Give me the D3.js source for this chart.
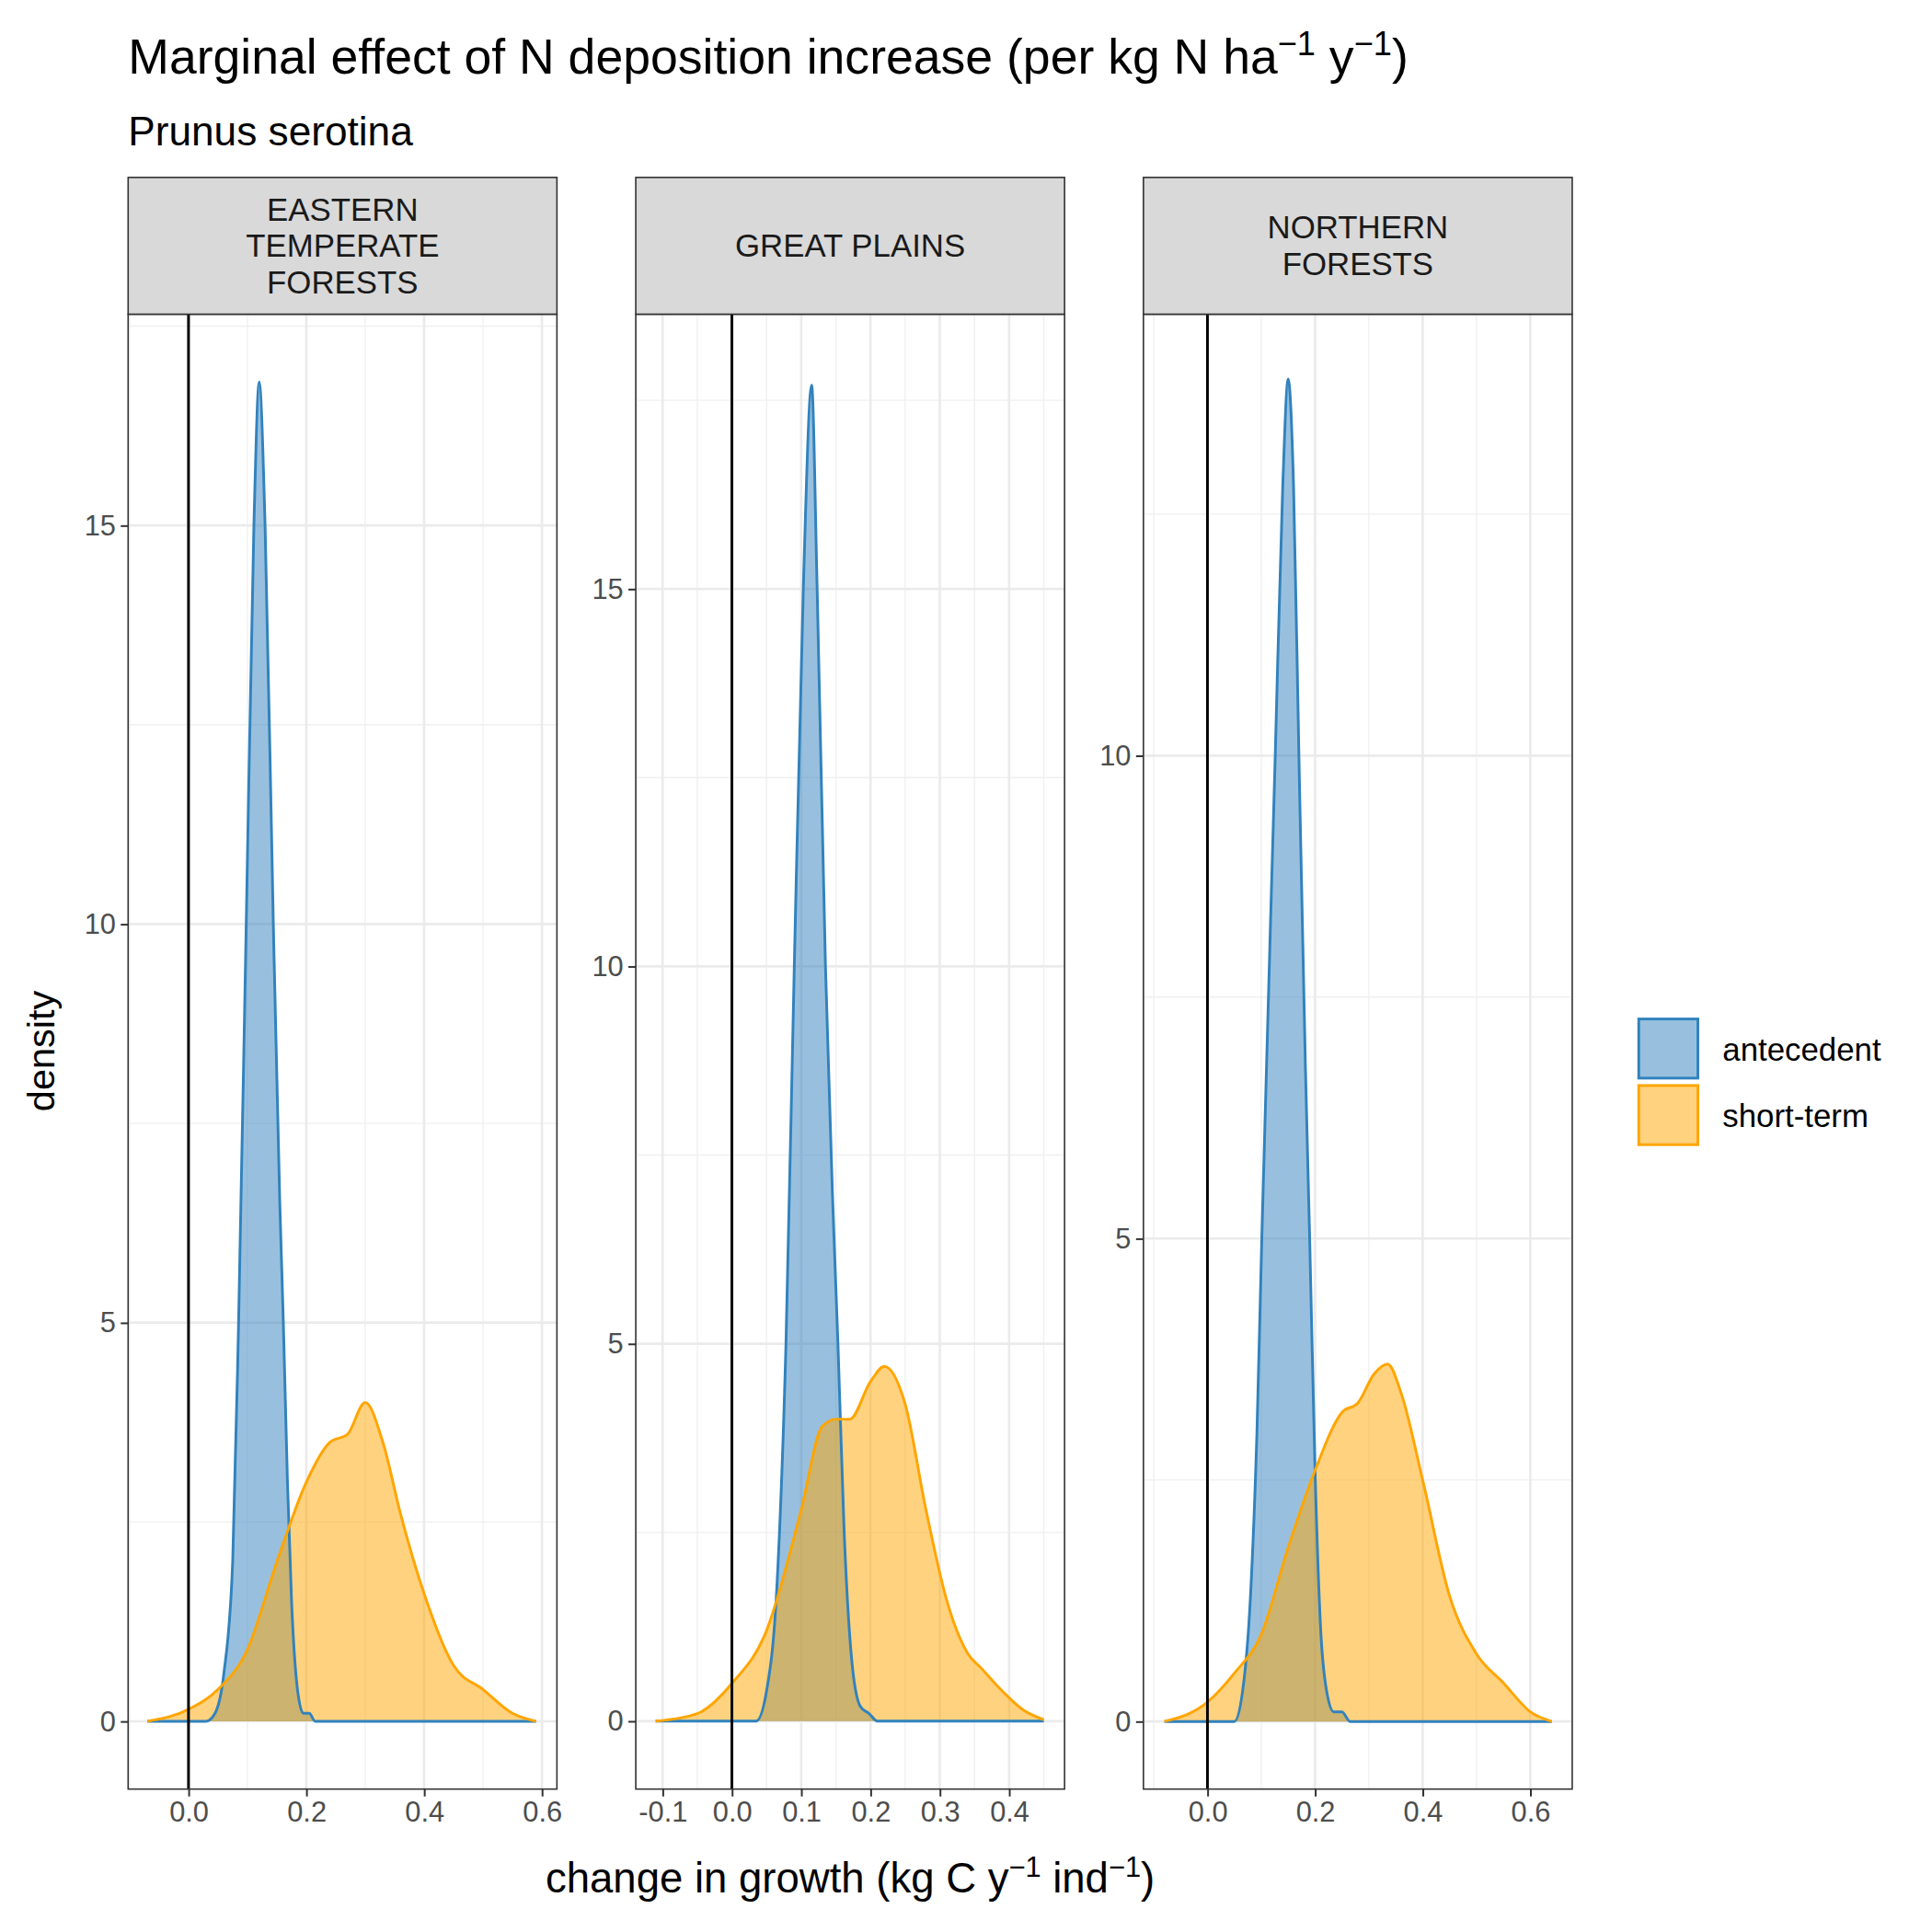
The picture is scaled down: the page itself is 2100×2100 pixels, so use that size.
<!DOCTYPE html>
<html><head><meta charset="utf-8">
<script src="https://cdn.jsdelivr.net/npm/d3@7"></script>
<style>body{margin:0;background:#fff}</style>
</head><body>
<script>
// values
var panels = ["EASTERN\nTEMPERATE\nFORESTS", "GREAT PLAINS", "NORTHERN\nFORESTS"];
var xDomains = [[-0.1025, 0.6255], [-0.1387, 0.48], [-0.119, 0.678]];
var yDomains = [[-0.85, 17.65], [-0.9, 18.64], [-0.7, 14.57]];
var xTicks = [[0, 0.2, 0.4, 0.6], [-0.1, 0, 0.1, 0.2, 0.3, 0.4], [0, 0.2, 0.4, 0.6]];
var yTicks = [[0, 5, 10, 15], [0, 5, 10, 15], [0, 5, 10]];

var antecedent = [
  [[-0.07,0],[0.03,0],[0.045,0.1],[0.06,0.6],[0.075,2],[0.085,5],[0.098,10],[0.111,15],[0.12,16.8],[0.13,15],[0.144,10],[0.155,6.5],[0.161,5],[0.168,3],[0.175,1.5],[0.185,0.4],[0.195,0.1],[0.205,0.1],[0.215,0],[0.59,0]],
  [[-0.11,0],[0.035,0],[0.05,0.4],[0.065,1.8],[0.078,5],[0.09,10],[0.103,15],[0.115,17.7],[0.123,15],[0.135,10],[0.145,7],[0.153,5],[0.162,2.5],[0.172,0.9],[0.185,0.2],[0.198,0.1],[0.21,0],[0.45,0]],
  [[-0.08,0],[0.05,0],[0.065,0.3],[0.08,1.3],[0.092,3],[0.101,5],[0.126,10],[0.14,12.8],[0.15,13.9],[0.16,12.8],[0.17,10],[0.182,6.8],[0.19,5],[0.2,2.6],[0.21,1],[0.222,0.3],[0.235,0.1],[0.25,0.1],[0.265,0],[0.64,0]]
];
var shortTerm = [
  [[-0.07,0],[0,0.15],[0.05,0.4],[0.1,0.9],[0.15,2],[0.2,3],[0.24,3.5],[0.27,3.6],[0.3,4],[0.33,3.5],[0.36,2.6],[0.4,1.6],[0.45,0.7],[0.5,0.4],[0.55,0.1],[0.59,0]],
  [[-0.11,0],[-0.05,0.1],[0,0.5],[0.05,1.2],[0.1,2.8],[0.13,3.9],[0.15,4.0],[0.17,4.0],[0.2,4.5],[0.22,4.7],[0.25,4.2],[0.28,2.8],[0.31,1.6],[0.34,0.9],[0.36,0.7],[0.39,0.4],[0.42,0.15],[0.45,0.02]],
  [[-0.08,0],[0,0.2],[0.05,0.5],[0.1,0.9],[0.15,1.8],[0.2,2.6],[0.25,3.2],[0.28,3.3],[0.31,3.6],[0.335,3.7],[0.36,3.4],[0.4,2.5],[0.45,1.3],[0.5,0.7],[0.55,0.4],[0.6,0.1],[0.64,0]]
];
var seriesNames = ["antecedent", "short-term"];
var colors = ["#3182bd", "#ffa500"];

var W = 1568;
var font = "Liberation Sans, Arial, sans-serif";
var svg = d3.select("body").append("svg")
  .attr("width", 2100).attr("height", 2100)
  .attr("viewBox", "0 0 " + W + " " + W)
  .style("font-family", font);

svg.append("text").attr("x", 104).attr("y", 60).style("font-size", "40px").style("fill", "#000")
  .html('Marginal effect of N deposition increase (per kg N ha<tspan dy="-15" font-size="27">\u22121</tspan><tspan dy="15"> y</tspan><tspan dy="-15" font-size="27">\u22121</tspan><tspan dy="15">)</tspan>');
svg.append("text").attr("x", 104).attr("y", 118).style("font-size", "33px").text("Prunus serotina");

var panelX = [104, 516, 928], pw = 348, pTop = 255, pBottom = 1452;
var fmt = function(v) { return d3.format(".1f")(v).replace("\u2212", "-"); };

panels.forEach(function(name, i) {
  var g = svg.append("g");
  var x = d3.scaleLinear().domain(xDomains[i]).range([panelX[i], panelX[i] + pw]);
  var y = d3.scaleLinear().domain(yDomains[i]).range([pBottom, pTop]);

  // minor grid
  var xt = xTicks[i], step = xt[1] - xt[0];
  var xMinor = [];
  for (var k = -1; k < xt.length; k++) xMinor.push(xt[0] + step * (k + 0.5));
  var yt = yTicks[i];
  var yMinor = [];
  for (var k = 0; k <= yt.length; k++) yMinor.push(2.5 + 5 * k - 5);
  xMinor.filter(function(v) { return v > xDomains[i][0] && v < xDomains[i][1]; }).forEach(function(v) {
    g.append("line").attr("x1", x(v)).attr("x2", x(v)).attr("y1", pTop).attr("y2", pBottom).attr("stroke", "#f0f0f0").attr("stroke-width", 1);
  });
  yMinor.filter(function(v) { return v > yDomains[i][0] && v < yDomains[i][1]; }).forEach(function(v) {
    g.append("line").attr("x1", panelX[i]).attr("x2", panelX[i] + pw).attr("y1", y(v)).attr("y2", y(v)).attr("stroke", "#f0f0f0").attr("stroke-width", 1);
  });
  xt.forEach(function(v) {
    g.append("line").attr("x1", x(v)).attr("x2", x(v)).attr("y1", pTop).attr("y2", pBottom).attr("stroke", "#ebebeb").attr("stroke-width", 2);
  });
  yt.forEach(function(v) {
    g.append("line").attr("x1", panelX[i]).attr("x2", panelX[i] + pw).attr("y1", y(v)).attr("y2", y(v)).attr("stroke", "#ebebeb").attr("stroke-width", 2);
  });

  var area = d3.area().x(function(d) { return x(d[0]); }).y0(y(0)).y1(function(d) { return y(d[1]); }).curve(d3.curveMonotoneX);
  var line = d3.line().x(function(d) { return x(d[0]); }).y(function(d) { return y(d[1]); }).curve(d3.curveMonotoneX);
  [antecedent[i], shortTerm[i]].forEach(function(data, s) {
    g.append("path").attr("d", area(data)).attr("fill", colors[s]).attr("fill-opacity", 0.5);
  });
  [antecedent[i], shortTerm[i]].forEach(function(data, s) {
    g.append("path").attr("d", line(data)).attr("fill", "none").attr("stroke", colors[s]).attr("stroke-width", 2.2);
  });

  g.append("line").attr("x1", x(0)).attr("x2", x(0)).attr("y1", pTop).attr("y2", pBottom).attr("stroke", "#000").attr("stroke-width", 2.2);
  g.append("rect").attr("x", panelX[i]).attr("y", pTop).attr("width", pw).attr("height", pBottom - pTop).attr("fill", "none").attr("stroke", "#333").attr("stroke-width", 1.2);

  // strip
  g.append("rect").attr("x", panelX[i]).attr("y", 144).attr("width", pw).attr("height", pTop - 144).attr("fill", "#d9d9d9").attr("stroke", "#333").attr("stroke-width", 1.2);
  var lines = name.split("\n");
  lines.forEach(function(t, j) {
    g.append("text").attr("x", panelX[i] + pw / 2).attr("y", 199.5 + (j - (lines.length - 1) / 2) * 29.5 + 9)
      .attr("text-anchor", "middle").style("font-size", "26px").style("fill", "#1a1a1a").text(t);
  });

  g.append("g").attr("transform", "translate(0," + pBottom + ")")
    .call(d3.axisBottom(x).tickValues(xt).tickSize(6).tickPadding(4).tickFormat(fmt))
    .call(function(a) {
      a.select(".domain").remove();
      a.selectAll("line").attr("stroke", "#333").attr("stroke-width", 1.5);
      a.selectAll("text").style("font-size", "23px").style("fill", "#4d4d4d").style("font-family", font);
    });
  g.append("g").attr("transform", "translate(" + panelX[i] + ",0)")
    .call(d3.axisLeft(y).tickValues(yt).tickSize(6).tickPadding(4).tickFormat(d3.format("d")))
    .call(function(a) {
      a.select(".domain").remove();
      a.selectAll("line").attr("stroke", "#333").attr("stroke-width", 1.5);
      a.selectAll("text").style("font-size", "23px").style("fill", "#4d4d4d").style("font-family", font);
    });
});

svg.append("text").attr("x", 690).attr("y", 1536).attr("text-anchor", "middle").style("font-size", "34px")
  .html('change in growth (kg C y<tspan dy="-13" font-size="23">\u22121</tspan><tspan dy="13"> ind</tspan><tspan dy="-13" font-size="23">\u22121</tspan><tspan dy="13">)</tspan>');
svg.append("text").attr("transform", "translate(44,853) rotate(-90)").attr("text-anchor", "middle").style("font-size", "31px").text("density");

seriesNames.forEach(function(n, s) {
  svg.append("rect").attr("x", 1330).attr("y", 827 + s * 54).attr("width", 48).attr("height", 48)
    .attr("fill", colors[s]).attr("fill-opacity", 0.5).attr("stroke", colors[s]).attr("stroke-width", 2.2);
  svg.append("text").attr("x", 1398).attr("y", 861 + s * 54).style("font-size", "26px").text(n);
});
</script>
</body></html>
